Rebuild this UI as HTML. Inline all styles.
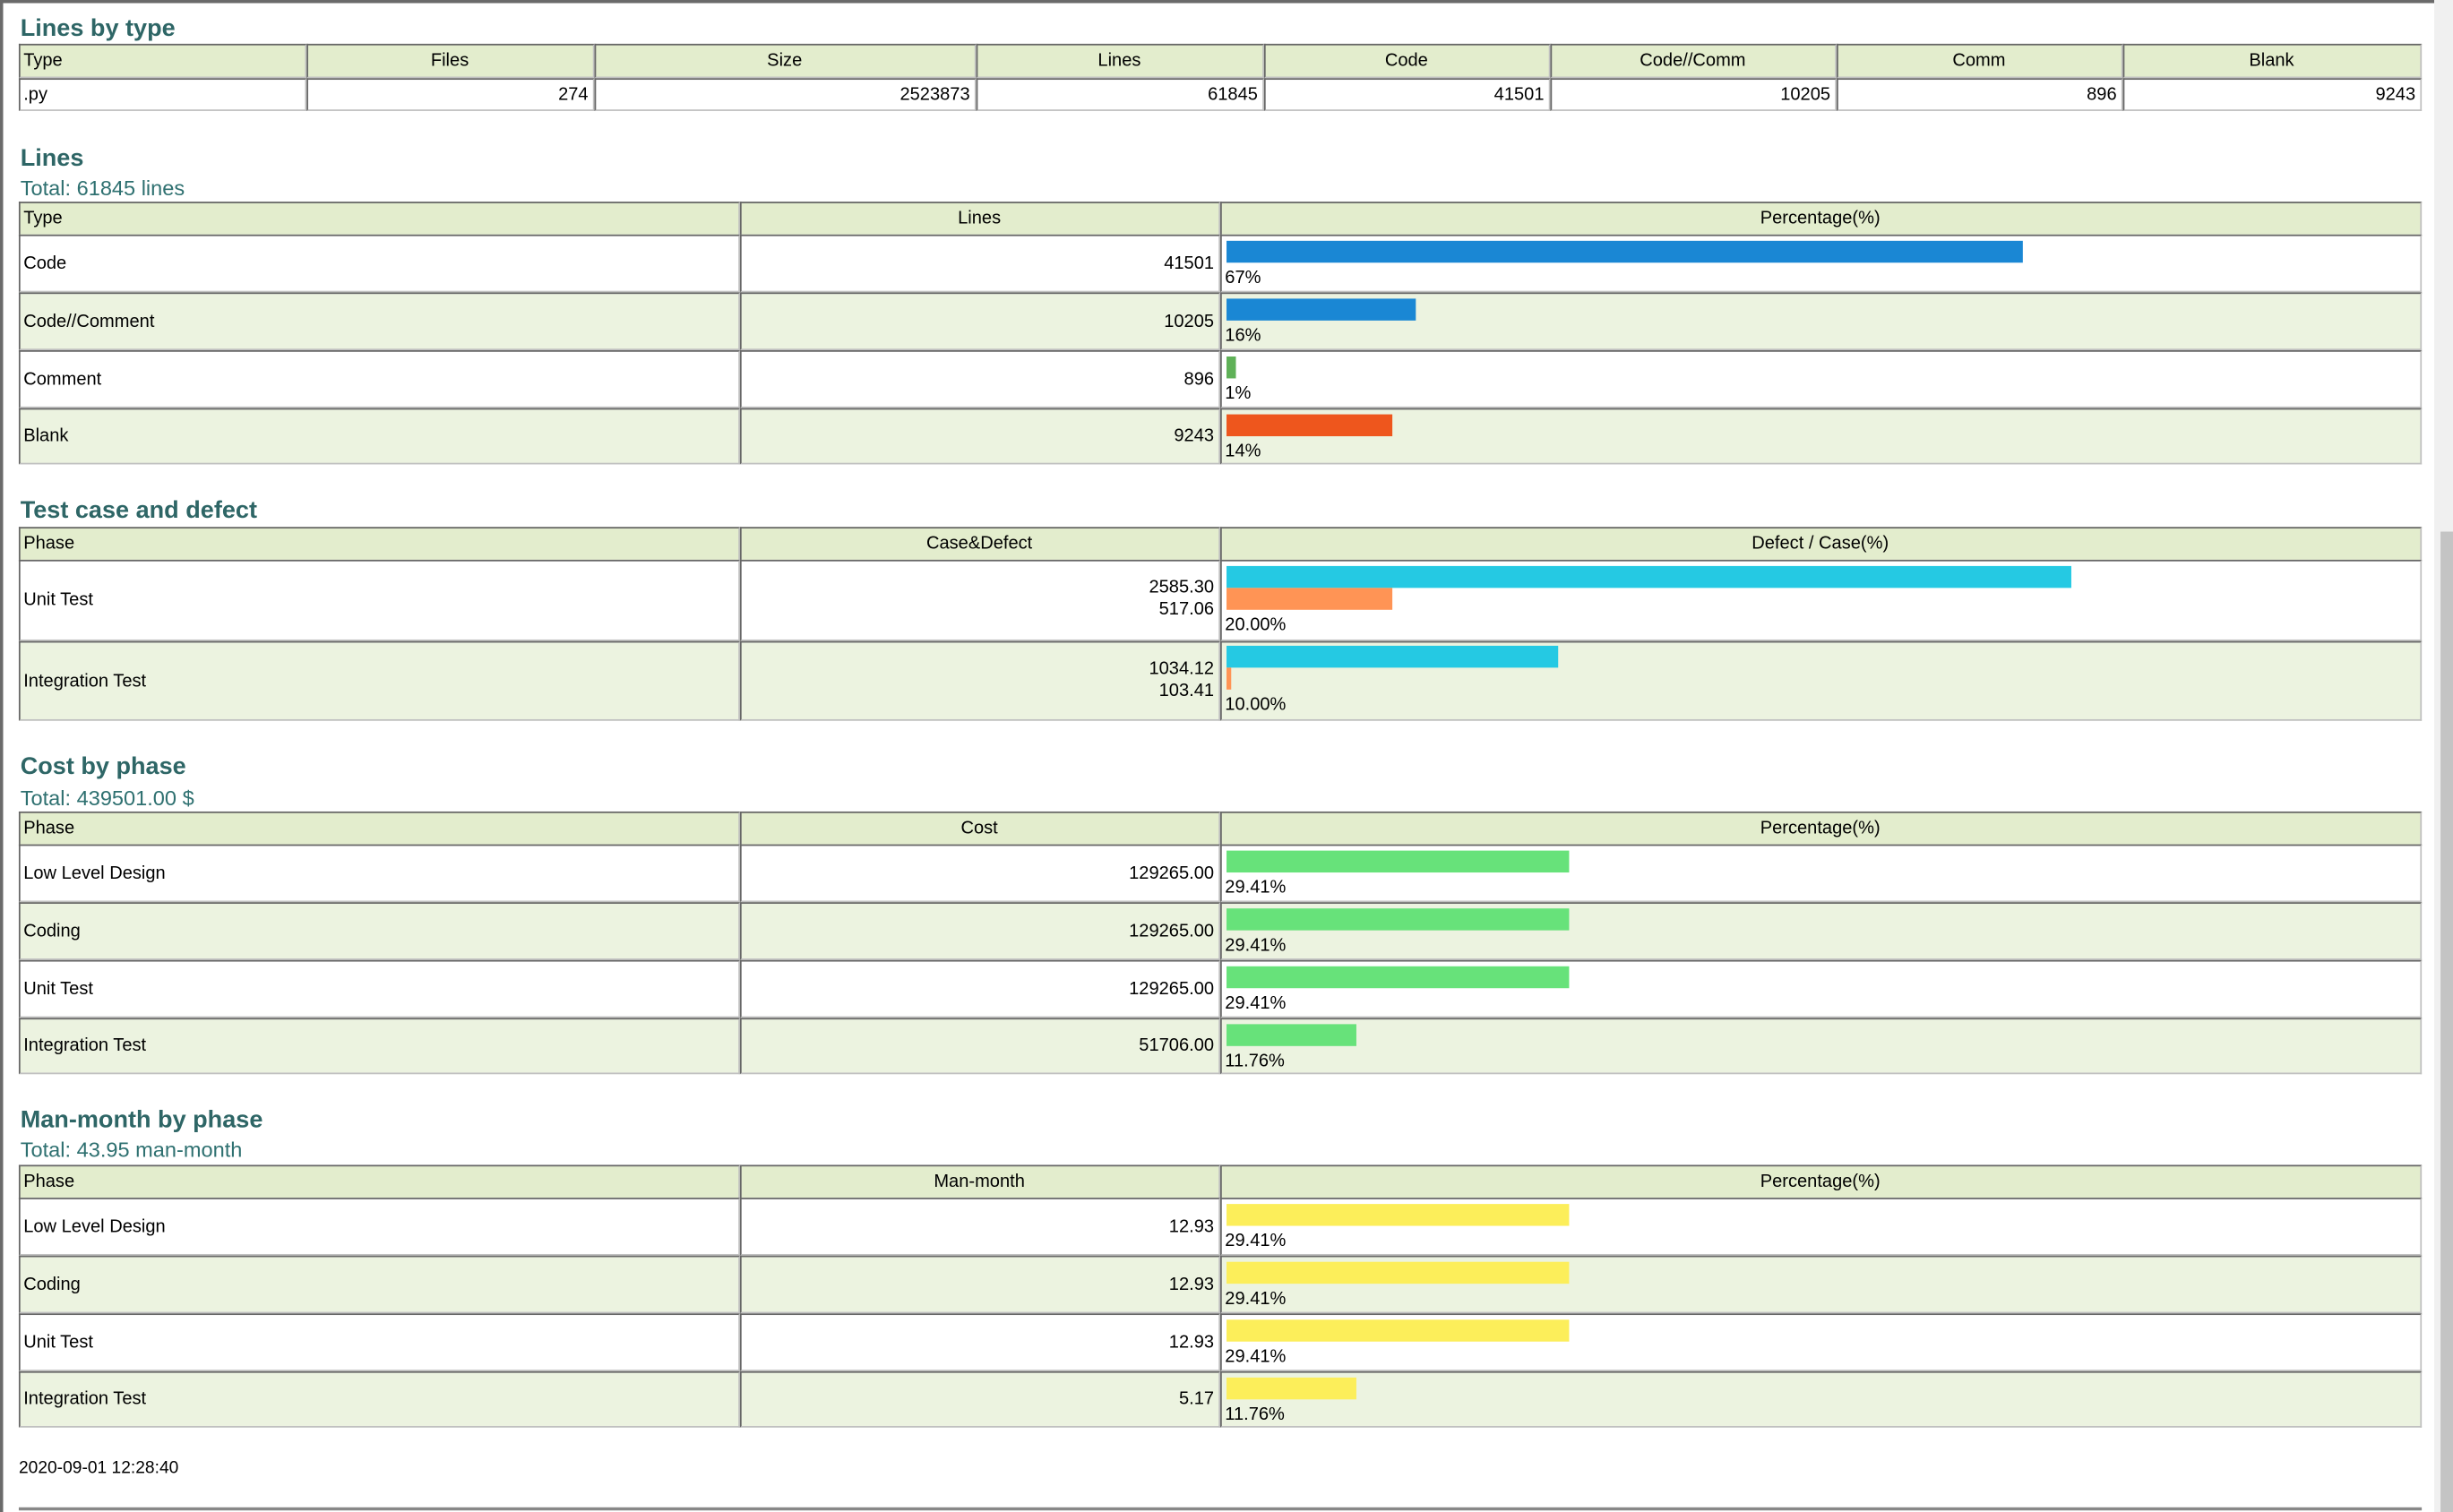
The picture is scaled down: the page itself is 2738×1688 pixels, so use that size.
<!DOCTYPE html>
<html><head><meta charset="utf-8">
<style>
html,body{margin:0;padding:0;background:#fff;overflow:hidden;}
#w{position:absolute;left:0;top:0;width:1568px;height:967px;transform:scale(1.7462,1.7456);transform-origin:0 0;font-family:"Liberation Sans",sans-serif;font-size:11.5px;color:#000;}
.a{position:absolute;}
h2{position:absolute;margin:0;font-size:15.5px;font-weight:bold;color:#2e6666;left:13px;line-height:18px;}
.t{position:absolute;left:13px;font-size:13.5px;color:#2e7070;line-height:16px;}
.r{position:absolute;left:12px;width:1536px;display:flex;}
.c{box-sizing:border-box;border-top:1px solid #666;border-left:1px solid #666;border-bottom:1px solid #c0c0c0;border-right:1px solid #c0c0c0;height:100%;display:flex;align-items:center;padding:0 3px 0 2px;white-space:nowrap;position:relative;}
.h{background:#e3edcd;}
.g{background:#ecf3e0;}
.w{background:#fff;}
.ctr{justify-content:center;}
.rt{justify-content:flex-end;}
.bar{position:absolute;left:3px;height:14px;}
.lab{position:absolute;left:2px;font-size:11.5px;line-height:12px;}
.num{position:absolute;right:3px;line-height:14px;text-align:right;}
</style></head><body><div id="w">
<div class="a" style="left:0;top:0;width:1556px;height:2px;background:#6a6a6a"></div>
<div class="a" style="left:0;top:0;width:2px;height:967px;background:#6a6a6a"></div>
<div class="a" style="left:1556px;top:0;width:12px;height:967px;background:#f0f0f0"></div>
<div class="a" style="left:1560px;top:340px;width:8px;height:627px;background:#c4c4c4"></div>

<h2 style="top:10px">Lines by type</h2>
<div class="r" style="top:28px;height:22px">
<div class="c h" style="width:184px">Type</div><div class="c h ctr" style="width:184px">Files</div><div class="c h ctr" style="width:244px">Size</div><div class="c h ctr" style="width:184px">Lines</div><div class="c h ctr" style="width:183px">Code</div><div class="c h ctr" style="width:183px">Code//Comm</div><div class="c h ctr" style="width:183px">Comm</div><div class="c h ctr" style="width:191px">Blank</div></div>
<div class="r" style="top:50px;height:21px">
<div class="c w" style="width:184px">.py</div><div class="c w rt" style="width:184px">274</div><div class="c w rt" style="width:244px">2523873</div><div class="c w rt" style="width:184px">61845</div><div class="c w rt" style="width:183px">41501</div><div class="c w rt" style="width:183px">10205</div><div class="c w rt" style="width:183px">896</div><div class="c w rt" style="width:191px">9243</div></div>

<h2 style="top:93px">Lines</h2>
<div class="t" style="top:113px">Total: 61845 lines</div>
<div class="r" style="top:129px;height:22px"><div class="c h" style="width:461px">Type</div><div class="c h ctr" style="width:307px">Lines</div><div class="c h ctr" style="width:768px">Percentage(%)</div></div>
<div class="r" style="top:150px;height:37px"><div class="c w" style="width:461px">Code</div><div class="c w rt" style="width:307px">41501</div><div class="c w" style="width:768px"><div class="bar" style="top:3px;width:509px;background:#1a87d4"></div><div class="lab" style="top:21px">67%</div></div></div>
<div class="r" style="top:187px;height:37px"><div class="c g" style="width:461px">Code//Comment</div><div class="c g rt" style="width:307px">10205</div><div class="c g" style="width:768px"><div class="bar" style="top:3px;width:121px;background:#1a87d4"></div><div class="lab" style="top:21px">16%</div></div></div>
<div class="r" style="top:224px;height:37px"><div class="c w" style="width:461px">Comment</div><div class="c w rt" style="width:307px">896</div><div class="c w" style="width:768px"><div class="bar" style="top:3px;width:6px;background:#5fb158"></div><div class="lab" style="top:21px">1%</div></div></div>
<div class="r" style="top:261px;height:36px"><div class="c g" style="width:461px">Blank</div><div class="c g rt" style="width:307px">9243</div><div class="c g" style="width:768px"><div class="bar" style="top:3px;width:106px;background:#ee561d"></div><div class="lab" style="top:21px">14%</div></div></div>

<h2 style="top:318px">Test case and defect</h2>
<div class="r" style="top:337px;height:22px"><div class="c h" style="width:461px">Phase</div><div class="c h ctr" style="width:307px">Case&amp;Defect</div><div class="c h ctr" style="width:768px">Defect / Case(%)</div></div>
<div class="r" style="top:358px;height:52px"><div class="c w" style="width:461px">Unit Test</div><div class="c w" style="width:307px"><div class="num" style="top:10px">2585.30<br>517.06</div></div><div class="c w" style="width:768px"><div class="bar" style="top:3px;width:540px;background:#25c9e3"></div><div class="bar" style="top:17px;width:106px;background:#ff9455"></div><div class="lab" style="top:35px">20.00%</div></div></div>
<div class="r" style="top:410px;height:51px"><div class="c g" style="width:461px">Integration Test</div><div class="c g" style="width:307px"><div class="num" style="top:10px">1034.12<br>103.41</div></div><div class="c g" style="width:768px"><div class="bar" style="top:2px;width:212px;background:#25c9e3"></div><div class="bar" style="top:16px;width:3px;background:#ff9455"></div><div class="lab" style="top:34px">10.00%</div></div></div>

<h2 style="top:482px">Cost by phase</h2>
<div class="t" style="top:503px">Total: 439501.00 $</div>
<div class="r" style="top:519px;height:22px"><div class="c h" style="width:461px">Phase</div><div class="c h ctr" style="width:307px">Cost</div><div class="c h ctr" style="width:768px">Percentage(%)</div></div>
<div class="r" style="top:540px;height:37px"><div class="c w" style="width:461px">Low Level Design</div><div class="c w rt" style="width:307px">129265.00</div><div class="c w" style="width:768px"><div class="bar" style="top:3px;width:219px;background:#67e27a"></div><div class="lab" style="top:21px">29.41%</div></div></div>
<div class="r" style="top:577px;height:37px"><div class="c g" style="width:461px">Coding</div><div class="c g rt" style="width:307px">129265.00</div><div class="c g" style="width:768px"><div class="bar" style="top:3px;width:219px;background:#67e27a"></div><div class="lab" style="top:21px">29.41%</div></div></div>
<div class="r" style="top:614px;height:37px"><div class="c w" style="width:461px">Unit Test</div><div class="c w rt" style="width:307px">129265.00</div><div class="c w" style="width:768px"><div class="bar" style="top:3px;width:219px;background:#67e27a"></div><div class="lab" style="top:21px">29.41%</div></div></div>
<div class="r" style="top:651px;height:36px"><div class="c g" style="width:461px">Integration Test</div><div class="c g rt" style="width:307px">51706.00</div><div class="c g" style="width:768px"><div class="bar" style="top:3px;width:83px;background:#67e27a"></div><div class="lab" style="top:21px">11.76%</div></div></div>

<h2 style="top:708px">Man-month by phase</h2>
<div class="t" style="top:728px">Total: 43.95 man-month</div>
<div class="r" style="top:745px;height:22px"><div class="c h" style="width:461px">Phase</div><div class="c h ctr" style="width:307px">Man-month</div><div class="c h ctr" style="width:768px">Percentage(%)</div></div>
<div class="r" style="top:766px;height:37px"><div class="c w" style="width:461px">Low Level Design</div><div class="c w rt" style="width:307px">12.93</div><div class="c w" style="width:768px"><div class="bar" style="top:3px;width:219px;background:#fcee5a"></div><div class="lab" style="top:21px">29.41%</div></div></div>
<div class="r" style="top:803px;height:37px"><div class="c g" style="width:461px">Coding</div><div class="c g rt" style="width:307px">12.93</div><div class="c g" style="width:768px"><div class="bar" style="top:3px;width:219px;background:#fcee5a"></div><div class="lab" style="top:21px">29.41%</div></div></div>
<div class="r" style="top:840px;height:37px"><div class="c w" style="width:461px">Unit Test</div><div class="c w rt" style="width:307px">12.93</div><div class="c w" style="width:768px"><div class="bar" style="top:3px;width:219px;background:#fcee5a"></div><div class="lab" style="top:21px">29.41%</div></div></div>
<div class="r" style="top:877px;height:36px"><div class="c g" style="width:461px">Integration Test</div><div class="c g rt" style="width:307px">5.17</div><div class="c g" style="width:768px"><div class="bar" style="top:3px;width:83px;background:#fcee5a"></div><div class="lab" style="top:21px">11.76%</div></div></div>

<div class="a" style="left:12px;top:933px;font-size:11px">2020-09-01 12:28:40</div>
<div class="a" style="left:12px;top:964px;width:1536px;height:2px;background:#888"></div>
</div></body></html>
